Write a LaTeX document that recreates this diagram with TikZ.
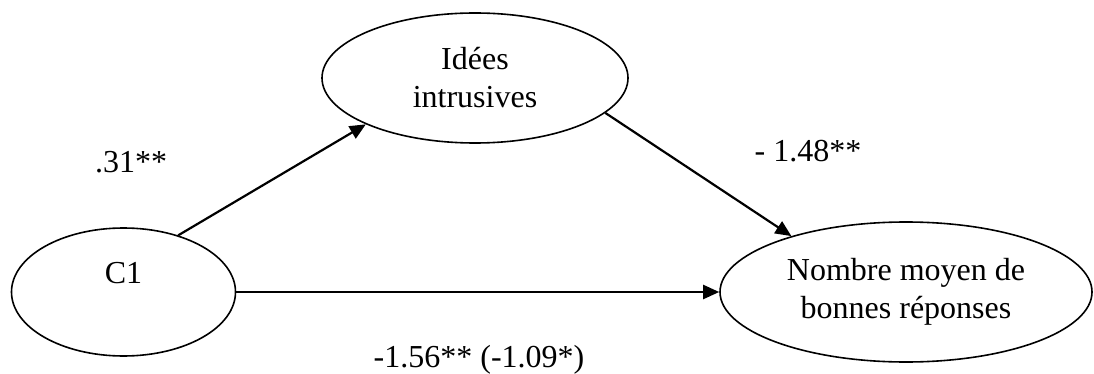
\documentclass[tikz,border=0pt]{standalone}
\usepackage{fontspec}
\setmainfont{Liberation Serif}
\usetikzlibrary{shapes.geometric,arrows.meta}
\begin{document}
\begin{tikzpicture}[x=1pt,y=-1pt,
  var/.style={draw,ellipse,line width=1.6pt,inner sep=0pt,align=center,
    font=\fontsize{32}{38}\selectfont},
  path/.style={line width=2.2pt,-{Triangle[length=16pt,width=14pt]}},
  coef/.style={font=\fontsize{32}{38}\selectfont,inner sep=0pt}]
\useasboundingbox (0,0) rectangle (1094,374);
\node[var,minimum width=306pt,minimum height=130pt] (ide) at (475,78) {Idées\\intrusives};
\node[var,minimum width=224pt,minimum height=128pt] (c1) at (123.5,292) {C1\\\phantom{C}};
\node[var,minimum width=372pt,minimum height=140pt] (nom) at (906,292) {Nombre moyen de\\bonnes réponses};
\draw[path] (c1.46) -- (ide.203);
\draw[path] (ide.-15) -- (nom.154);
\draw[path] (c1.east) -- (nom.west);
\node[coef,anchor=base] (a) at (131,173) {.31**};
\node[coef,anchor=base] (b) at (808,162) {- 1.48**};
\node[coef,anchor=base] (c) at (479,367) {-1.56** (-1.09*)};
\end{tikzpicture}
\end{document}
